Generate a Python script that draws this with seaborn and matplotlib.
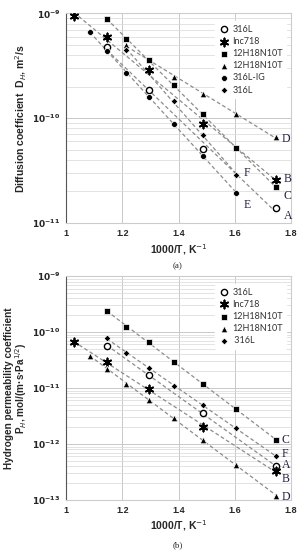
import numpy as np
import pandas as pd
import matplotlib
matplotlib.use("Agg")
import matplotlib.pyplot as plt
import matplotlib.ticker as mticker
import seaborn as sns

# 1000/T values (K^-1) used in both panels
x_vals = [1.028, 1.085, 1.145, 1.215, 1.294, 1.383, 1.486, 1.605, 1.745]

# (a) diffusion coefficient, m2/s
diff_A_x = [1.145, 1.294, 1.486, 1.745]
diff_A_y = [4.8e-10, 1.85e-10, 5.1e-11, 1.4e-11]
diff_B_x = [1.028, 1.145, 1.294, 1.486, 1.745]
diff_B_y = [9.5e-10, 5.9e-10, 2.9e-10, 8.9e-11, 2.6e-11]
diff_C_x = [1.145, 1.215, 1.294, 1.383, 1.486, 1.605, 1.745]
diff_C_y = [8.8e-10, 5.7e-10, 3.6e-10, 2.06e-10, 1.1e-10, 5.2e-11, 2.2e-11]
diff_D_x = [1.215, 1.383, 1.486, 1.605, 1.745]
diff_D_y = [5.0e-10, 2.5e-10, 1.7e-10, 1.1e-10, 6.6e-11]
diff_E_x = [1.085, 1.145, 1.215, 1.294, 1.383, 1.486, 1.605]
diff_E_y = [6.7e-10, 4.4e-10, 2.7e-10, 1.6e-10, 8.9e-11, 4.4e-11, 1.95e-11]
diff_F_x = [1.215, 1.383, 1.486, 1.605]
diff_F_y = [4.5e-10, 1.46e-10, 6.9e-11, 2.9e-11]

# (b) permeability coefficient, mol/(m s Pa^1/2)
perm_A_x = [1.145, 1.294, 1.486, 1.745]
perm_A_y = [5.7e-11, 1.7e-11, 3.6e-12, 4.0e-13]
perm_B_x = [1.028, 1.145, 1.294, 1.486, 1.745]
perm_B_y = [6.7e-11, 2.9e-11, 9.5e-12, 2.0e-12, 3.3e-13]
perm_C_x = [1.145, 1.215, 1.294, 1.383, 1.486, 1.605, 1.745]
perm_C_y = [2.4e-10, 1.25e-10, 6.6e-11, 2.9e-11, 1.2e-11, 4.2e-12, 1.2e-12]
perm_D_x = [1.085, 1.145, 1.215, 1.294, 1.383, 1.486, 1.605, 1.745]
perm_D_y = [3.8e-11, 2.2e-11, 1.2e-11, 6.1e-12, 2.9e-12, 1.2e-12, 4.2e-13, 1.2e-13]
perm_F_x = [1.145, 1.215, 1.294, 1.383, 1.486, 1.605, 1.745]
perm_F_y = [7.7e-11, 4.3e-11, 2.3e-11, 1.1e-11, 5.0e-12, 1.9e-12, 6.1e-13]

diff_names = ['316L', 'Inc718', '12H18N10T', '12H18N10T', '316L-IG', '316L']
perm_names = ['316L', 'Inc718', '12H18N10T', '12H18N10T', ' 316L']

diff_yticks = [1e-11, 1e-10, 1e-9]
perm_yticks = [1e-13, 1e-12, 1e-11, 1e-10, 1e-9]
x_ticks = [1.0, 1.2, 1.4, 1.6, 1.8]

sns.set_style("white")
plt.rcParams['font.family'] = ['Liberation Sans', 'DejaVu Sans']

# marker styles per curve letter
styles = {
    'A': dict(marker='o', facecolor='white', edgecolor='black', s=20, linewidth=1.0),
    'B': dict(marker=(6, 2, 0), color='black', s=34, linewidth=1.3),
    'C': dict(marker='s', color='black', s=17, linewidth=0.5),
    'D': dict(marker='^', color='black', s=22, linewidth=0.5),
    'E': dict(marker='o', color='black', s=18, linewidth=0.5),
    'F': dict(marker='D', color='black', s=12, linewidth=0.5),
}


def log_fmt(v, pos):
    e = int(round(np.log10(v)))
    return r'$\mathbf{10^{%d}}$' % e


def draw_panel(ax, series, names, offsets, yticks, ylabel, ylabel_size):
    for (key, xs, ys), name in zip(series, names):
        # dashed fit line in log space
        xs_a = np.array(xs)
        k, b = np.polyfit(xs_a, np.log10(ys), 1)
        xf = np.array([xs_a.min(), xs_a.max()])
        sns.lineplot(x=xf, y=10 ** (k * xf + b), ax=ax, color='#8c8c8c',
                     linestyle=(0, (3, 2)), linewidth=0.9, legend=False)
    for (key, xs, ys), name in zip(series, names):
        sns.scatterplot(x=xs, y=ys, ax=ax, label=name, zorder=3, **styles[key])
    for key, xs, ys in series:
        dx, dy = offsets[key]
        ax.annotate(key, (xs[-1], ys[-1]), xytext=(dx, dy), textcoords='offset pixels',
                    family='Liberation Serif', fontsize=8.5, va='center', ha='left',
                    color='#222244')

    ax.set_yscale('log')
    ax.set_xlim(x_ticks[0], x_ticks[-1])
    ax.set_ylim(yticks[0], yticks[-1])
    ax.xaxis.set_major_locator(mticker.FixedLocator(x_ticks))
    ax.xaxis.set_major_formatter(mticker.FuncFormatter(lambda v, p: f'{v:g}'))
    ax.yaxis.set_major_locator(mticker.FixedLocator(yticks))
    minor = [m * t for t in yticks[:-1] for m in range(2, 10)]
    ax.yaxis.set_minor_locator(mticker.FixedLocator(minor))
    ax.yaxis.set_major_formatter(mticker.FuncFormatter(log_fmt))
    ax.yaxis.set_minor_formatter(mticker.NullFormatter())
    ax.grid(True, which='major', color='#c8c8c8', linewidth=0.7)
    ax.grid(True, which='minor', axis='y', color='#d8d8d8', linewidth=0.5)
    ax.tick_params(axis='both', which='major', labelsize=6.5, length=0, pad=4)
    ax.tick_params(axis='y', which='minor', length=2, color='#888888')
    for lbl in ax.get_xticklabels():
        lbl.set_fontweight('bold')
    for side in ['top', 'right', 'bottom']:
        ax.spines[side].set_color('#cccccc')
        ax.spines[side].set_linewidth(0.8)
    ax.spines['left'].set_color('#555555')
    ax.spines['left'].set_linewidth(0.8)
    ax.set_xlabel('1000/T, K$^{-1}$', fontsize=7.5, fontweight='bold', labelpad=3)
    ax.set_ylabel(ylabel, fontsize=ylabel_size, fontweight='bold', labelpad=2, linespacing=1.0)

    leg = ax.legend(loc='upper right', frameon=True, framealpha=1,
                    facecolor='white', edgecolor='white', handletextpad=0.3,
                    labelspacing=0.35, borderpad=0.4, handlelength=1.2,
                    bbox_to_anchor=(1.0, 0.985), prop={'family': 'Lato', 'size': 6.5})
    for t in leg.get_texts():
        t.set_color('#333333')


fig = plt.figure(figsize=(3.0, 5.5), dpi=100)
ax1 = fig.add_axes([0.22, 0.5945, 0.75, 0.381])
ax2 = fig.add_axes([0.22, 0.091, 0.75, 0.407])

diff_series = [('A', diff_A_x, diff_A_y), ('B', diff_B_x, diff_B_y), ('C', diff_C_x, diff_C_y),
               ('D', diff_D_x, diff_D_y), ('E', diff_E_x, diff_E_y), ('F', diff_F_x, diff_F_y)]
diff_offsets = {'A': (8, -8), 'B': (8, 1), 'C': (8, -9), 'D': (6, -2), 'E': (7, -12), 'F': (7, 2)}
draw_panel(ax1, diff_series, diff_names, diff_offsets, diff_yticks,
           'Diffusion coefficient  D$_H$, m$^2$/s', 7.5)

perm_series = [('A', perm_A_x, perm_A_y), ('B', perm_B_x, perm_B_y), ('C', perm_C_x, perm_C_y),
               ('D', perm_D_x, perm_D_y), ('F', perm_F_x, perm_F_y)]
perm_offsets = {'A': (6, 1), 'B': (6, -8), 'C': (6, 0), 'D': (6, -1), 'F': (6, 2)}
draw_panel(ax2, perm_series, perm_names, perm_offsets, perm_yticks,
           'Hydrogen permeability coefficient\nP$_H$, mol/(m·s·Pa$^{1/2}$)', 7.2)

fig.text(0.593, 0.512, '(a)', ha='center', family='Liberation Serif', fontsize=6.5)
fig.text(0.593, 0.006, '(b)', ha='center', family='Liberation Serif', fontsize=6.5)

fig.savefig('out.png', dpi=100)
